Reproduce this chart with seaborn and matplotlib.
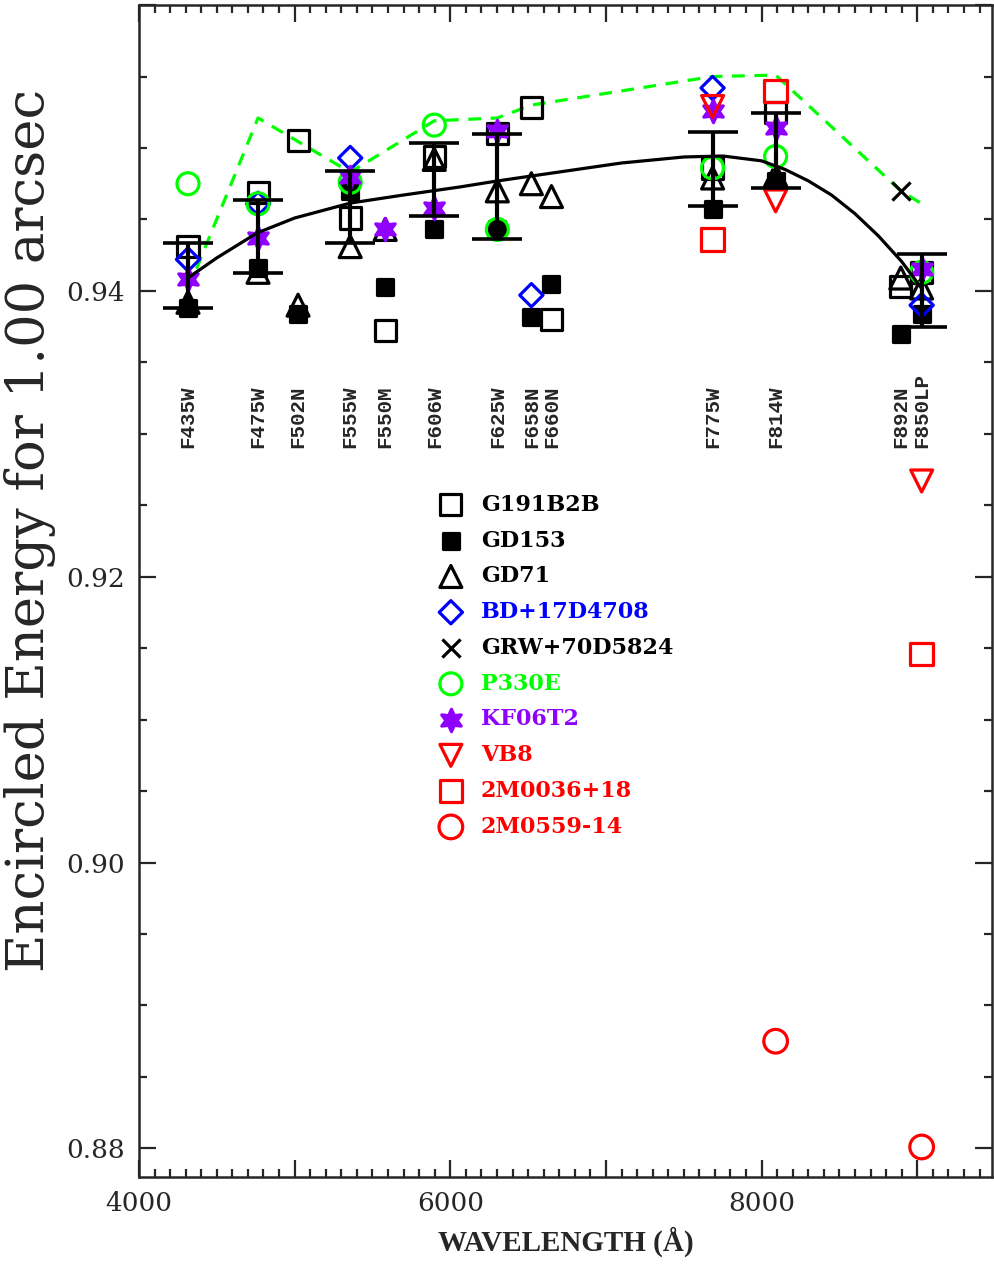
import numpy as np
import pandas as pd
import matplotlib
matplotlib.use("Agg")
import matplotlib.pyplot as plt
import seaborn as sns
from matplotlib.ticker import MultipleLocator, FuncFormatter

# filters and plotted wavelengths (Angstrom)
filters = ["F435W", "F475W", "F502N", "F555W", "F550M", "F606W", "F625W",
           "F658N", "F660N", "F775W", "F814W", "F892N", "F850LP"]
filter_wave = [4315, 4765, 5022, 5357, 5582, 5897, 6302,
               6521, 6650, 7685, 8090, 8894, 9028]

# encircled energy per star
g191_wave = [4315, 4765, 5022, 5357, 5582, 5897, 6302, 6521, 6650, 7685, 8090, 8894, 9028]
g191_ee = [0.9431, 0.9469, 0.9505, 0.9451, 0.9372, 0.9494, 0.9510, 0.9528, 0.9380, 0.9486, 0.9525, 0.9403, 0.9413]

gd153_wave = [4315, 4765, 5022, 5357, 5582, 5897, 6302, 6521, 6650, 7685, 8090, 8894, 9028]
gd153_ee = [0.9388, 0.9416, 0.9384, 0.9470, 0.9403, 0.9443, 0.9443, 0.9382, 0.9405, 0.9457, 0.9477, 0.9370, 0.9384]

gd71_wave = [4315, 4765, 5022, 5357, 5582, 5897, 6302, 6521, 6650, 7685, 8090, 8894, 9028]
gd71_ee = [0.9392, 0.9413, 0.9390, 0.9431, 0.9443, 0.9492, 0.9470, 0.9475, 0.9466, 0.9479, 0.9481, 0.9409, 0.9402]

bd17_wave = [4315, 4765, 5357, 6521, 7685, 9028]
bd17_ee = [0.9422, 0.9461, 0.9493, 0.9397, 0.9542, 0.9390]

grw_wave = [8894]
grw_ee = [0.9470]

p330e_wave = [4315, 4765, 5357, 5897, 6302, 7685, 8090, 9028]
p330e_ee = [0.9475, 0.9461, 0.9476, 0.9516, 0.9443, 0.9486, 0.9494, 0.9413]

kf06_wave = [4315, 4765, 5357, 5582, 5897, 6302, 7685, 8090, 9028]
kf06_ee = [0.9408, 0.9437, 0.9480, 0.9443, 0.9458, 0.9512, 0.9526, 0.9514, 0.9415]

vb8_wave = [7685, 8090, 9028]
vb8_ee = [0.9529, 0.9463, 0.9267]

m0036_wave = [7685, 8090, 9028]
m0036_ee = [0.9436, 0.9540, 0.9146]

m0559_wave = [8090, 9028]
m0559_ee = [0.8875, 0.8801]

# mean and scatter per broad filter
err_wave = [4315, 4765, 5357, 5897, 6302, 7685, 8090, 9028]
err_mean = [0.9411, 0.9438, 0.9459, 0.9478, 0.9473, 0.9485, 0.9498, 0.9400]
err_sig = [0.00227, 0.00255, 0.00252, 0.00255, 0.00367, 0.00259, 0.00262, 0.00255]

# fitted curve (black) and green dashed curve
fit_wave = [4315, 4500, 4760, 5000, 5360, 5700, 6060, 6300, 6700, 7100, 7500,
            7750, 8000, 8150, 8300, 8450, 8600, 8750, 8900, 9030]
fit_ee = [0.94091, 0.94231, 0.94406, 0.94510, 0.94615, 0.94671, 0.94727, 0.94769,
          0.94832, 0.94895, 0.94937, 0.94944, 0.94910, 0.94850, 0.94770, 0.94670,
          0.94540, 0.94385, 0.94205, 0.94014]

dash_wave = [4315, 4765, 5357, 5897, 6302, 6521, 7685, 8090, 8894, 9028]
dash_ee = [0.9401, 0.9521, 0.9483, 0.9519, 0.9521, 0.9530, 0.9550, 0.9551, 0.9470, 0.9461]

sns.set_style("ticks")
plt.rcParams["font.family"] = ["DejaVu Serif"]

fig = plt.figure(figsize=(9.94, 12.66), dpi=100)
ax = fig.add_axes([0.1398, 0.0703, 0.8582, 0.9257])

purple = "#9000ff"
green = "#00ff00"
stars = [
    ("G191B2B", g191_wave, g191_ee, "s", "none", "black", 230, "black"),
    ("GD153", gd153_wave, gd153_ee, "s", "black", "black", 120, "black"),
    ("GD71", gd71_wave, gd71_ee, "^", "none", "black", 250, "black"),
    ("BD+17D4708", bd17_wave, bd17_ee, "D", "none", "blue", 140, "blue"),
    ("GRW+70D5824", grw_wave, grw_ee, "x", "black", "black", 170, "black"),
    ("P330E", p330e_wave, p330e_ee, "o", "none", green, 250, green),
    ("KF06T2", kf06_wave, kf06_ee, (6, 1, 0), purple, purple, 260, purple),
    ("VB8", vb8_wave, vb8_ee, "v", "none", "red", 250, "red"),
    ("2M0036+18", m0036_wave, m0036_ee, "s", "none", "red", 260, "red"),
    ("2M0559-14", m0559_wave, m0559_ee, "o", "none", "red", 290, "red"),
]

for name, w, e, mk, fc, ec, size, tc in stars:
    df = pd.DataFrame({"wave": w, "ee": e})
    sns.scatterplot(data=df, x="wave", y="ee", ax=ax, marker=mk, s=size,
                    facecolor=fc, edgecolor=ec, color=ec, linewidth=2.3,
                    label=name, zorder=3)

# error bars
ax.errorbar(err_wave, err_mean, yerr=err_sig, fmt="none", ecolor="black",
            elinewidth=3.0, capsize=18, capthick=2.6, zorder=4)

# curves
sns.lineplot(x=fit_wave, y=fit_ee, ax=ax, color="black", lw=2.3, zorder=4,
             sort=False, estimator=None)
sns.lineplot(x=dash_wave, y=dash_ee, ax=ax, color=green, lw=2.3, zorder=2,
             sort=False, estimator=None)
ax.lines[-1].set_linestyle((0, (4, 3)))

# filter names
for name, w in zip(filters, filter_wave):
    ax.text(w, 0.9290, name, rotation=90, ha="center", va="bottom",
            fontsize=15, fontweight="bold", family="Liberation Mono")

ax.set_xlim(4000, 9480)
ax.set_ylim(0.878, 0.96)

ax.xaxis.set_major_locator(MultipleLocator(1000))
ax.xaxis.set_minor_locator(MultipleLocator(100))
ax.xaxis.set_major_formatter(FuncFormatter(lambda v, p: f"{int(v)}" if int(v) % 2000 == 0 else ""))
ax.yaxis.set_major_locator(MultipleLocator(0.02))
ax.yaxis.set_minor_locator(MultipleLocator(0.005))
ax.yaxis.set_major_formatter(FuncFormatter(lambda v, p: f"{v:.2f}" if v < 0.955 else ""))

ax.tick_params(which="both", direction="in", top=True, right=True, width=1.6,
               labelsize=19, pad=10)
ax.tick_params(which="major", length=12)
ax.tick_params(which="minor", length=6)
for sp in ax.spines.values():
    sp.set_linewidth(1.8)

ax.set_xlabel("WAVELENGTH (Å)", fontsize=21, fontweight="bold",
              family="Liberation Serif", labelpad=8)
ax.set_ylabel("")
fig.text(30 / 994, 1 - 530 / 1266, "Encircled Energy for 1.00 arcsec", rotation=90,
         ha="center", va="center", fontsize=38)

leg = ax.legend(loc="upper left", bbox_to_anchor=(0.35, 0.583), frameon=False,
                handlelength=1.2, handletextpad=0.75,
                labelspacing=0.62, borderpad=0, borderaxespad=0,
                prop={"weight": "bold", "size": 16})
for txt, st in zip(leg.get_texts(), stars):
    txt.set_color(st[7])

fig.savefig("out.png", dpi=100)
